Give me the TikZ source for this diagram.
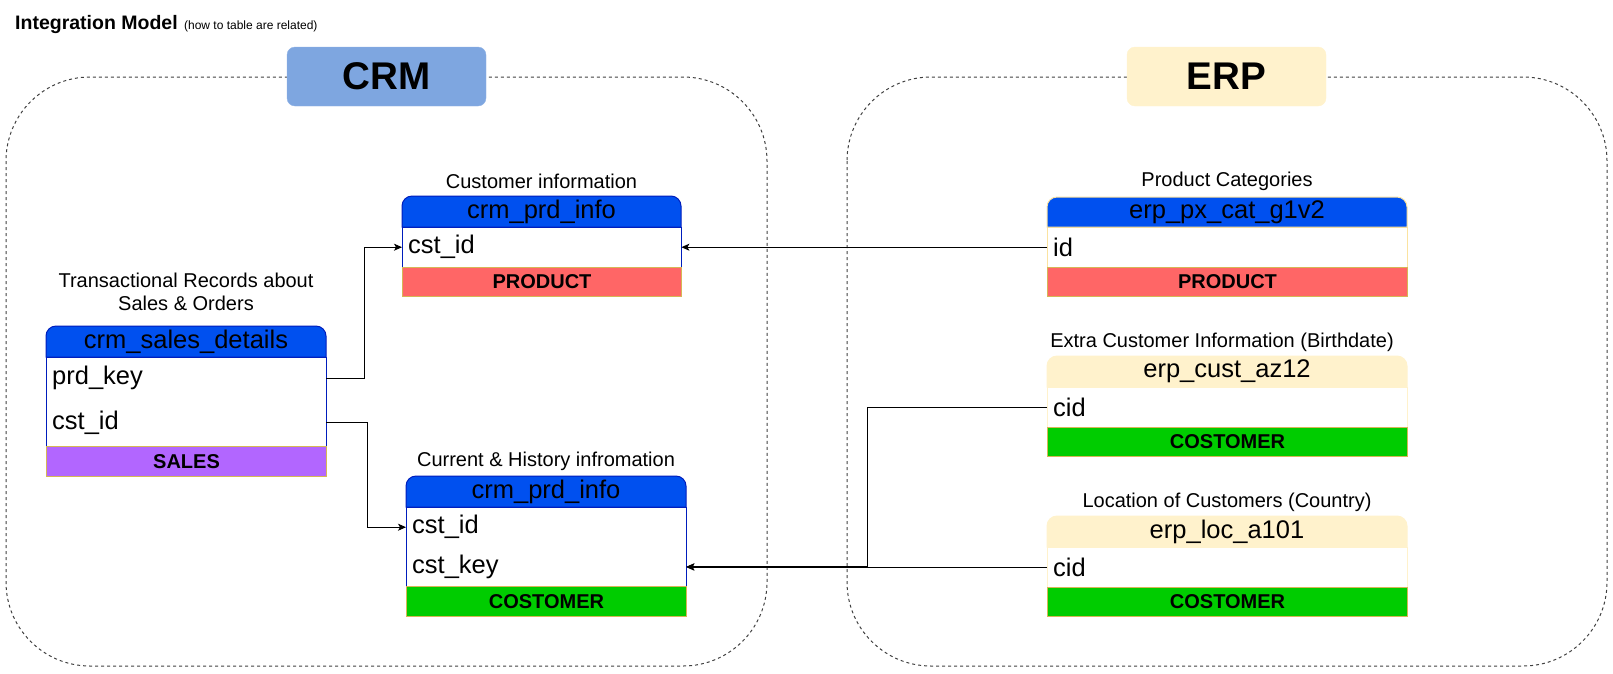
\documentclass[tikz,border=0pt]{standalone}
\usepackage{fontspec}
\setmainfont{Liberation Sans}
\usetikzlibrary{arrows.meta}
\definecolor{hdrblue}{HTML}{0050EF}
\definecolor{hdrline}{HTML}{001DBC}
\definecolor{erpyellow}{HTML}{FFF2CC}
\definecolor{erpline}{HTML}{FBE3A0}
\definecolor{gold}{HTML}{D6B656}
\definecolor{prodred}{HTML}{FF6666}
\definecolor{salesviolet}{HTML}{B266FF}
\definecolor{custgreen}{HTML}{00CC00}
\definecolor{crmbox}{HTML}{7EA6E0}
\tikzset{
  container/.style={draw=black!75,line width=1pt,dash pattern=on 3pt off 3pt,rounded corners=84pt},
  sysbox/.style={rounded corners=8pt,minimum width=199pt,minimum height=59pt,inner sep=0pt,font=\fontsize{38.6}{44}\selectfont\bfseries},
  caption/.style={align=center,inner sep=0pt,font=\fontsize{20}{23}\selectfont},
  headtext/.style={inner sep=0pt,font=\fontsize{25.5}{30}\selectfont},
  row/.style={anchor=north west,inner xsep=6pt,inner ysep=0pt,align=left,font=\fontsize{25.5}{30}\selectfont},
  band/.style={anchor=north west,draw=gold,line width=1pt,inner sep=0pt,font=\fontsize{20}{24}\selectfont\bfseries},
  link/.style={line width=1pt,-{Stealth[length=8pt,width=7pt,inset=2pt]}}
}
\begin{document}
\begin{tikzpicture}[x=1pt,y=-1pt]
  \useasboundingbox (0,0) rectangle (1613,673);
  % title
  \node[anchor=base west,inner sep=0pt,font=\fontsize{19.5}{23}\selectfont\bfseries] (title) at (15,29) {Integration Model};
  \node[anchor=base west,inner sep=0pt,font=\fontsize{12}{14}\selectfont] (subtitle) at ([xshift=6pt]title.base east) {(how to table are related)};
  % source systems
  \draw[container] (6,77) rectangle (767,666);
  \draw[container] (847,77) rectangle (1607,666);
  \node[sysbox,fill=crmbox,draw=crmbox!85!white] (crm) at (386.5,76.5) {CRM};
  \node[sysbox,fill=erpyellow,draw=erpyellow] (erp) at (1226.5,76.5) {ERP};

  % crm_sales_details
  \node[caption] (sd-cap) at (186,291.5) {Transactional Records about\\Sales \& Orders};
  \draw[hdrline,line width=1pt,fill=white] (46,357) rectangle (326,446);
  \draw[hdrline,line width=1pt,fill=hdrblue] (46,357) [rounded corners=10pt] -- (46,326) -- (326,326) [sharp corners] -- (326,357) -- cycle;
  \node[headtext] (sd) at (186,341.5) {crm\_sales\_details};
  \node[row,text width=268pt,minimum height=42pt] (sd-prd) at (46,357) {prd\_key};
  \node[row,text width=268pt,minimum height=47pt] (sd-cst) at (46,399) {cst\_id};
  \node[band,fill=salesviolet,minimum width=280pt,minimum height=30pt] (sd-band) at (46,446) {SALES};

  % crm_prd_info (customer information)
  \node[caption] (pi-cap) at (541.5,181) {Customer information};
  \draw[hdrline,line width=1pt,fill=white] (402,227) rectangle (681,267);
  \draw[hdrline,line width=1pt,fill=hdrblue] (402,227) [rounded corners=10pt] -- (402,196) -- (681,196) [sharp corners] -- (681,227) -- cycle;
  \node[headtext] (pi) at (541.5,211.5) {crm\_prd\_info};
  \node[row,text width=267pt,minimum height=40pt] (pi-cst) at (402,227) {cst\_id};
  \node[band,fill=prodred,minimum width=279pt,minimum height=29pt] (pi-band) at (402,267) {PRODUCT};

  % crm_prd_info (current & history)
  \node[caption] (ph-cap) at (546,461) {Current \& History infromation};
  \draw[hdrline,line width=1pt,fill=white] (406,507) rectangle (686,586);
  \draw[hdrline,line width=1pt,fill=hdrblue] (406,507) [rounded corners=10pt] -- (406,476) -- (686,476) [sharp corners] -- (686,507) -- cycle;
  \node[headtext] (ph) at (546,491.5) {crm\_prd\_info};
  \node[row,text width=268pt,minimum height=40pt] (ph-cst) at (406,507) {cst\_id};
  \node[row,text width=268pt,minimum height=39pt] (ph-key) at (406,547) {cst\_key};
  \node[band,fill=custgreen,minimum width=280pt,minimum height=30pt] (ph-band) at (406,586) {COSTOMER};

  % erp_px_cat_g1v2
  \node[caption] (px-cap) at (1227,181) {Product Categories};
  \draw[erpline,line width=1pt,fill=white] (1047,227) rectangle (1407,267);
  \draw[erpline,line width=1pt,fill=hdrblue] (1047,227) [rounded corners=10pt] -- (1047,197) -- (1407,197) [sharp corners] -- (1407,227) -- cycle;
  \node[headtext] (px) at (1227,212) {erp\_px\_cat\_g1v2};
  \node[row,text width=348pt,minimum height=40pt] (px-id) at (1047,227) {id};
  \node[band,fill=prodred,minimum width=360pt,minimum height=29pt] (px-band) at (1047,267) {PRODUCT};

  % erp_cust_az12
  \node[caption] (cu-cap) at (1222,342) {Extra Customer Information (Birthdate)};
  \draw[erpyellow,line width=1pt,fill=white] (1047,387) rectangle (1407,427);
  \draw[erpyellow,line width=1pt,fill=erpyellow] (1047,387) [rounded corners=10pt] -- (1047,356) -- (1407,356) [sharp corners] -- (1407,387) -- cycle;
  \node[headtext] (cu) at (1227,371.5) {erp\_cust\_az12};
  \node[row,text width=348pt,minimum height=40pt] (cu-cid) at (1047,387) {cid};
  \node[band,fill=custgreen,minimum width=360pt,minimum height=29pt] (cu-band) at (1047,427) {COSTOMER};

  % erp_loc_a101
  \node[caption] (lo-cap) at (1227,502) {Location of Customers (Country)};
  \draw[erpyellow,line width=1pt,fill=white] (1047,547) rectangle (1407,587);
  \draw[erpyellow,line width=1pt,fill=erpyellow] (1047,547) [rounded corners=10pt] -- (1047,516) -- (1407,516) [sharp corners] -- (1407,547) -- cycle;
  \node[headtext] (lo) at (1227,531.5) {erp\_loc\_a101};
  \node[row,text width=348pt,minimum height=40pt] (lo-cid) at (1047,547) {cid};
  \node[band,fill=custgreen,minimum width=360pt,minimum height=29pt] (lo-band) at (1047,587) {COSTOMER};

  % relations
  \draw[link] (sd-prd.east) -- ++(38,0) |- (pi-cst.west);
  \draw[link] (sd-cst.east) -- ++(41,0) |- (ph-cst.west);
  \draw[link] (px-id.west) -- (pi-cst.east);
  \draw[link] (cu-cid.west) -- ++(-180,0) |- (ph-key.east);
  \draw[link] (lo-cid.west) -- (lo-cid.west -| ph-key.east);
\end{tikzpicture}
\end{document}
